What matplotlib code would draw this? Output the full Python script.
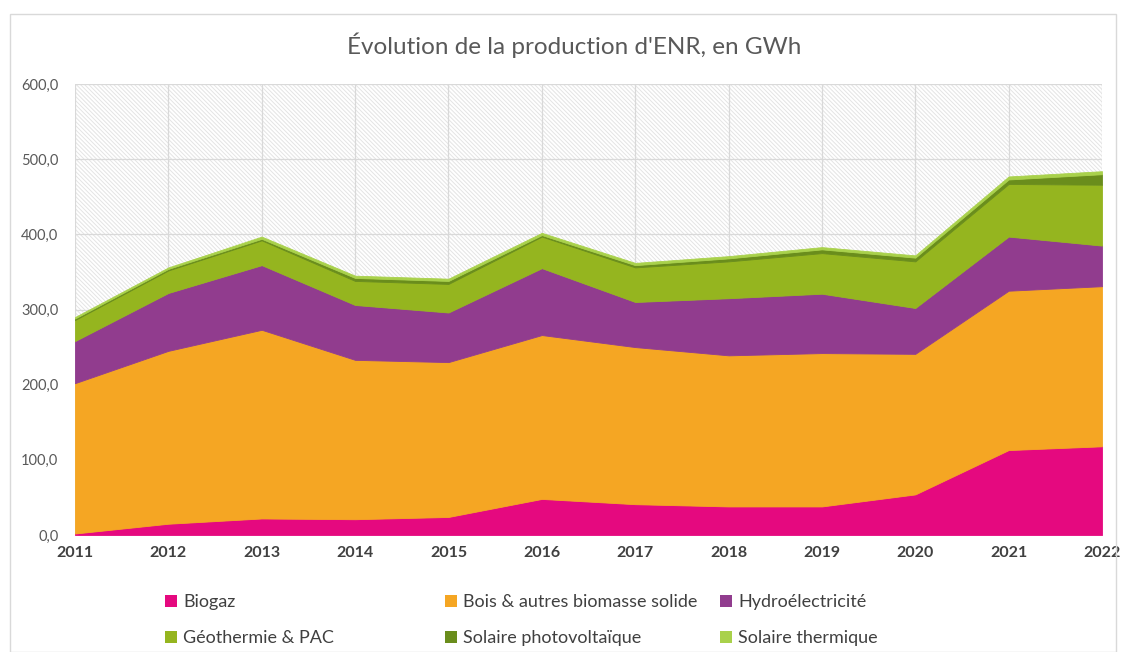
import matplotlib
matplotlib.use("Agg")
import matplotlib.pyplot as plt
from matplotlib.patches import Patch, Rectangle

plt.rcParams["font.family"] = ["Lato", "DejaVu Sans"]
plt.rcParams["hatch.linewidth"] = 0.7

years = [2011, 2012, 2013, 2014, 2015, 2016, 2017, 2018, 2019, 2020, 2021, 2022]
biogaz = [2, 15, 22, 21, 24, 48, 41, 38, 38, 54, 113, 118]
bois = [200, 230, 251, 212, 206, 218, 209, 201, 204, 187, 212, 213]
hydro = [56, 77, 86, 73, 66, 89, 60, 76, 79, 61, 72, 54]
geo = [28, 30, 33, 32, 38, 42, 46, 49, 54, 62, 70, 81]
pv = [2, 2, 2, 4, 4, 2, 3, 4, 5, 5, 6, 14]
thermique = [2, 2, 3, 3, 3, 3, 3, 3, 3, 3, 4, 4]

labels = ["Biogaz", "Bois & autres biomasse solide", "Hydroélectricité",
          "Géothermie & PAC", "Solaire photovoltaïque", "Solaire thermique"]
colors = ["#E5097F", "#F5A623", "#913C8E", "#95B51F", "#6A8D1C", "#A9D14B"]

fig = plt.figure(figsize=(11.26, 6.52), dpi=100)
ax = fig.add_axes([75 / 1126, 1 - 535 / 652, 1027 / 1126, 451 / 652])

# frame around the chart
fig.patches.append(Rectangle((10 / 1126, 0), 1106 / 1126, 1 - 14 / 652,
                             transform=fig.transFigure, fill=False,
                             edgecolor="#d9d9d9", linewidth=1))

# hatched background of the plot area
ax.add_patch(Rectangle((0, 0), 1, 1, transform=ax.transAxes, facecolor="white",
                       edgecolor="#e4e4e4", hatch="\\" * 8, linewidth=0, zorder=0))

polys = ax.stackplot(years, biogaz, bois, hydro, geo, pv, thermique,
                     colors=colors, zorder=2)
for p, c in zip(polys, colors):
    p.set_edgecolor(c)
    p.set_linewidth(0.6)

ax.set_xlim(2011, 2022)
ax.set_ylim(0, 600)
ax.set_xticks(years)
ax.set_xticklabels([str(y) for y in years], fontweight="bold", color="#404040", fontsize=11.5)
ax.set_yticks(range(0, 601, 100))
ax.set_yticklabels([f"{v},0" for v in range(0, 601, 100)], color="#595959", fontsize=10.5)
ax.tick_params(length=0, pad=8)
ax.tick_params(axis="y", pad=12)
ax.grid(True, color="#d9d9d9", linewidth=0.9, zorder=1)
ax.set_axisbelow(True)
for s in ax.spines.values():
    s.set_visible(False)

fig.text(574 / 1126, 1 - 45 / 652, "Évolution de la production d'ENR, en GWh",
         ha="center", va="center", fontsize=17.5, color="#595959")

# legend in three columns
cols = [(0, 3), (1, 4), (2, 5)]
xs = [158 / 1126, 438 / 1126, 713 / 1126]
for (a, b), x in zip(cols, xs):
    handles = [Patch(facecolor=colors[a]), Patch(facecolor=colors[b])]
    fig.legend(handles, [labels[a], labels[b]], loc="upper left",
               bbox_to_anchor=(x, 1 - 587 / 652), frameon=False, fontsize=13,
               labelcolor="#404040", handlelength=0.65, handleheight=0.65,
               handletextpad=0.35, labelspacing=1.1, borderaxespad=0)

fig.savefig("out.png", dpi=100)
